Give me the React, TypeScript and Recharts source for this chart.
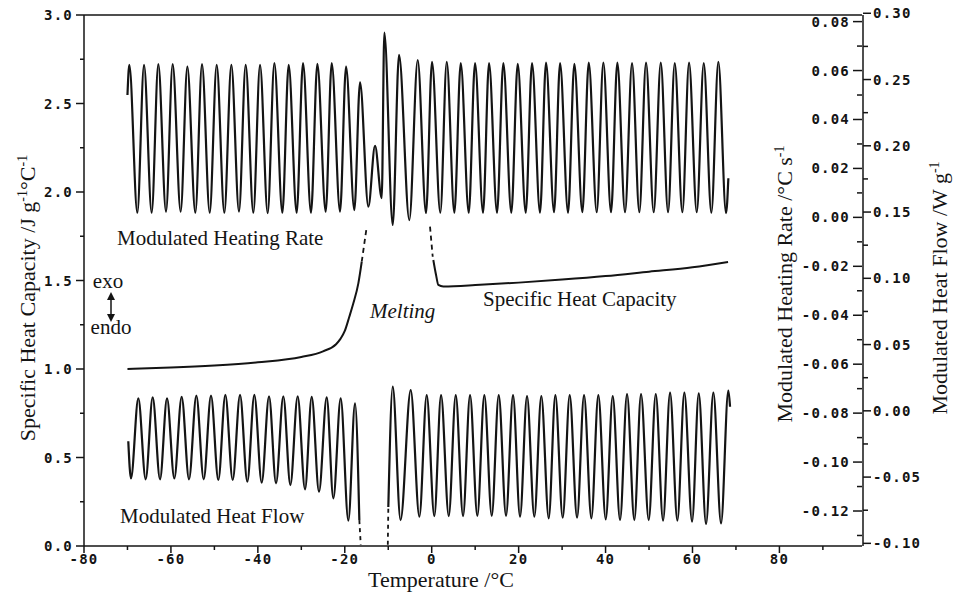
import React from 'react';
import { LineChart, Line, XAxis, YAxis, ReferenceLine } from 'recharts';

type Pt = [number, number];

// axis ticks (minor ticks carry no label)
const tempTicks = [-80, -70, -60, -50, -40, -30, -20, -10, 0, 10, 20, 30, 40, 50, 60, 70, 80, 90];
const cpTicks = [0, 0.25, 0.5, 0.75, 1, 1.25, 1.5, 1.75, 2, 2.25, 2.5, 2.75, 3];
const rateTicks = [-0.13, -0.12, -0.11, -0.1, -0.09, -0.08, -0.07, -0.06, -0.05, -0.04, -0.03, -0.02, -0.01, 0, 0.01, 0.02, 0.03, 0.04, 0.05, 0.06, 0.07, 0.08];
const flowTicks = [-0.1, -0.075, -0.05, -0.025, 0, 0.025, 0.05, 0.075, 0.1, 0.125, 0.15, 0.175, 0.2, 0.225, 0.25, 0.275, 0.3];

// modulated heating rate, °C/s  [temperature, value] at each turning point
const heatingRate: Pt[] = [
  [-70.0, 0.05], [-69.57, 0.0623], [-67.73, 0.0019], [-66.19, 0.0623], [-64.43, 0.0019],
  [-62.9, 0.0626], [-61.13, 0.0023], [-59.6, 0.0626], [-57.76, 0.0023], [-56.22, 0.0616],
  [-54.38, 0.0019], [-52.85, 0.0626], [-51.08, 0.0019], [-49.47, 0.0623], [-47.71, 0.0019],
  [-46.1, 0.0623], [-44.34, 0.0023], [-42.8, 0.0623], [-41.04, 0.0019], [-39.5, 0.0623],
  [-37.74, 0.0017], [-36.2, 0.063], [-34.36, 0.0019], [-32.91, 0.0623], [-31.07, 0.0019],
  [-29.61, 0.063], [-27.77, 0.0019], [-26.31, 0.0627], [-24.39, 0.0023], [-23.01, 0.063],
  [-21.09, 0.0023], [-19.71, 0.0616], [-17.8, 0.003], [-16.49, 0.0552], [-14.58, 0.0044],
  [-13.04, 0.0292], [-11.5, 0.0079], [-10.9, 0.0755], [-8.97, -0.0031], [-7.52, 0.0664],
  [-5.15, -0.0011], [-3.22, 0.0643], [-1.31, 0.0017], [0.07, 0.0636], [1.98, 0.0019],
  [3.46, 0.0636], [5.21, 0.0019], [6.68, 0.063], [8.52, 0.0019], [9.97, 0.063],
  [11.81, 0.0019], [13.19, 0.063], [15.03, 0.0019], [16.48, 0.063], [18.32, 0.0019],
  [19.79, 0.0627], [21.63, 0.0019], [23.08, 0.063], [24.92, 0.0019], [26.3, 0.0632],
  [28.15, 0.0021], [29.53, 0.063], [31.37, 0.0019], [32.82, 0.0627], [34.66, 0.0021],
  [36.13, 0.0632], [37.97, 0.0021], [39.49, 0.0632], [41.26, 0.0021], [42.71, 0.0632],
  [44.48, 0.0021], [46.09, 0.063], [47.77, 0.0021], [49.31, 0.0632], [51.08, 0.0021],
  [52.7, 0.0632], [54.38, 0.0021], [55.92, 0.063], [57.67, 0.0021], [59.21, 0.0632],
  [60.98, 0.0021], [62.59, 0.063], [64.34, 0.0019], [65.95, 0.0636], [67.72, 0.0017],
  [68.25, 0.016],
];

// modulated heat flow, W/g
const heatFlowBefore: Pt[] = [
  [-69.81, -0.023], [-69.19, -0.051], [-67.5, 0.0094], [-65.81, -0.0517], [-64.2, 0.0102],
  [-62.51, -0.0517], [-60.9, 0.0094], [-59.22, -0.051], [-57.53, 0.0106], [-55.84, -0.0517],
  [-54.15, 0.0114], [-52.46, -0.0517], [-50.78, 0.0114], [-49.09, -0.0522], [-47.48, 0.012],
  [-45.79, -0.0522], [-44.1, 0.012], [-42.42, -0.0535], [-40.81, 0.012], [-39.12, -0.0542],
  [-37.43, 0.011], [-35.82, -0.0547], [-34.14, 0.011], [-32.52, -0.056], [-30.84, 0.011],
  [-29.15, -0.0592], [-27.61, 0.0106], [-25.93, -0.061], [-24.16, 0.0102], [-22.63, -0.066],
  [-20.94, 0.0094], [-19.18, -0.0829], [-17.64, 0.0057], [-16.65, -0.0825],
];
const heatFlowBeforeGap: Pt[] = [[-16.65, -0.0825], [-16.33, -0.101]];
const heatFlowAfterGap: Pt[] = [[-10.1, -0.101], [-9.98, -0.0725]];
const heatFlowAfter: Pt[] = [
  [-9.98, -0.0725], [-8.97, 0.0182], [-7.17, -0.0824], [-4.83, 0.0157], [-2.84, -0.0799],
  [-1.15, 0.0119], [0.6, -0.0794], [2.15, 0.0119], [3.92, -0.0794], [5.53, 0.0119],
  [7.21, -0.0794], [8.82, 0.0119], [10.5, -0.0792], [12.11, 0.0119], [13.81, -0.0792],
  [15.42, 0.0119], [17.1, -0.0792], [18.71, 0.0119], [20.32, -0.0799], [21.93, 0.0112],
  [23.61, -0.0799], [25.22, 0.0112], [26.92, -0.0811], [28.45, 0.0119], [30.14, -0.0807],
  [31.75, 0.0119], [33.44, -0.0807], [35.05, 0.0119], [36.73, -0.0811], [38.34, 0.0119],
  [40.04, -0.0819], [41.65, 0.0112], [43.33, -0.0824], [44.94, 0.0127], [46.62, -0.0824],
  [48.16, 0.0127], [49.93, -0.0824], [51.55, 0.0127], [53.23, -0.0829], [54.84, 0.0137],
  [56.52, -0.0829], [58.13, 0.0137], [59.9, -0.0837], [61.44, 0.0132], [63.12, -0.0854],
  [64.8, 0.0137], [66.57, -0.0849], [68.25, 0.0152], [68.64, 0.0031],
];

// specific heat capacity, J/g/°C
const cpBefore: Pt[] = [
  [-70, 1.0], [-60, 1.008], [-50, 1.02], [-40, 1.038], [-30, 1.068], [-25, 1.1],
  [-22, 1.14], [-21, 1.17], [-20, 1.215], [-18.96, 1.295], [-18.03, 1.371],
  [-16.88, 1.484], [-16.1, 1.606],
];
const cpBeforeGap: Pt[] = [[-16.1, 1.606], [-14.95, 1.804]];
const cpAfterGap: Pt[] = [[-0.39, 1.804], [0.23, 1.634]];
const cpAfter: Pt[] = [
  [0.37, 1.616], [1.0, 1.531], [1.52, 1.475], [2.67, 1.466], [11.12, 1.476], [20, 1.488],
  [30, 1.505], [40, 1.525], [50, 1.55], [60, 1.575], [68.18, 1.605],
];

const toRows = (pts: Pt[]) => pts.map(([t, v]) => ({ t, v }));

const INK = '#141414';
const MONO = '"DejaVu Sans Mono", "Liberation Mono", monospace';
const SERIF = '"Liberation Serif", "DejaVu Serif", serif';

const tickText = { fontFamily: MONO, fontSize: 14, fontWeight: 'bold' as const, letterSpacing: 1.2, fill: INK };

const TempTick = ({ x, y, payload }: any) => {
  const v = payload.value;
  const major = v % 20 === 0;
  return (
    <g>
      <line x1={x} y1={y} x2={x} y2={y + (major ? 7 : 4)} stroke={INK} strokeWidth={1.5} />
      {major && (
        <text x={x} y={y + 18} textAnchor="middle" {...tickText}>{v}</text>
      )}
    </g>
  );
};

const CpTick = ({ x, y, payload }: any) => {
  const v = payload.value;
  const major = Math.round(v * 100) % 50 === 0;
  return (
    <g>
      <line x1={x - (major ? 8 : 4)} y1={y} x2={x} y2={y} stroke={INK} strokeWidth={1.5} />
      {major && (
        <text x={x - 11} y={y + 5} textAnchor="end" {...tickText}>{v.toFixed(1)}</text>
      )}
    </g>
  );
};

const RateTick = ({ x, y, payload }: any) => {
  const v = payload.value;
  const major = Math.round(v * 100) % 2 === 0;
  return (
    <g>
      <line x1={x - (major ? 9 : 5)} y1={y} x2={x} y2={y} stroke={INK} strokeWidth={1.5} />
      {major && (
        <text x={x - 12} y={y + 5} textAnchor="end" {...tickText}>{v.toFixed(2)}</text>
      )}
    </g>
  );
};

const FlowTick = ({ x, y, payload }: any) => {
  const v = payload.value;
  const major = Math.round(v * 1000) % 50 === 0;
  return (
    <g>
      <line x1={x} y1={y} x2={x + (major ? 8 : 5)} y2={y} stroke={INK} strokeWidth={1.5} />
      {major && (
        <text x={x + 10} y={y + 5} textAnchor="start" {...tickText}>{v.toFixed(2)}</text>
      )}
    </g>
  );
};

const titleText = { fontFamily: SERIF, fontSize: 22, fill: INK };
const noteText = { fontFamily: SERIF, fontSize: 21, fill: INK };
const sup = { fontSize: 14 };

// axis titles and in-plot notes
const Notes = () => (
  <svg width={954} height={598} style={{ position: 'absolute', left: 0, top: 0, pointerEvents: 'none' }}>
    <text transform="translate(35,298) rotate(-90)" textAnchor="middle" {...titleText}>
      Specific Heat Capacity /J g<tspan dy={-8} {...sup}>-1</tspan>
      <tspan dy={8}>°C</tspan><tspan dy={-8} {...sup}>-1</tspan>
    </text>
    <text transform="translate(792,284) rotate(-90)" textAnchor="middle" {...titleText}>
      Modulated Heating Rate /°C s<tspan dy={-8} {...sup}>-1</tspan>
    </text>
    <text transform="translate(947,288) rotate(-90)" textAnchor="middle" {...titleText}>
      Modulated Heat Flow /W g<tspan dy={-8} {...sup}>-1</tspan>
    </text>
    <text x={441} y={587} textAnchor="middle" {...titleText}>Temperature /°C</text>

    <text x={117} y={245} {...noteText}>Modulated Heating Rate</text>
    <text x={120} y={523} {...noteText}>Modulated Heat Flow</text>
    <text x={483} y={306} {...noteText}>Specific Heat Capacity</text>
    <text x={370} y={318} {...noteText} fontStyle="italic">Melting</text>

    <text x={108} y={288} textAnchor="middle" {...noteText}>exo</text>
    <text x={111} y={334} textAnchor="middle" {...noteText}>endo</text>
    <line x1={111} y1={296} x2={111} y2={318} stroke={INK} strokeWidth={1.5} />
    <polygon points="111,292 107,300 115,300" fill={INK} />
    <polygon points="111,322 107,314 115,314" fill={INK} />
  </svg>
);

const lineProps = {
  dataKey: 'v',
  type: 'monotone' as const,
  dot: false,
  stroke: INK,
  isAnimationActive: false,
};

export default function App() {
  return (
    <div style={{ position: 'absolute', left: 0, top: 0, width: 954, height: 598, background: '#fff' }}>
      <LineChart width={954} height={598} margin={{ top: 15, right: 31, bottom: 22, left: 24 }}>
        <XAxis
          dataKey="t"
          type="number"
          domain={[-80, 99]}
          ticks={tempTicks}
          allowDataOverflow
          height={30}
          tickSize={0}
          tickMargin={0}
          tickLine={false}
          tick={<TempTick />}
          axisLine={{ stroke: INK, strokeWidth: 1.5 }}
        />
        <YAxis
          yAxisId="cp"
          orientation="left"
          type="number"
          domain={[0, 3]}
          ticks={cpTicks}
          allowDataOverflow
          width={60}
          tickSize={0}
          tickMargin={0}
          tickLine={false}
          tick={<CpTick />}
          axisLine={{ stroke: INK, strokeWidth: 1.5 }}
        />
        <YAxis
          yAxisId="r1"
          orientation="right"
          type="number"
          domain={[-0.1343, 0.0827]}
          ticks={rateTicks}
          allowDataOverflow
          width={1}
          tickSize={0}
          tickMargin={0}
          tickLine={false}
          tick={<RateTick />}
          axisLine={false}
        />
        <YAxis
          yAxisId="r2"
          orientation="right"
          type="number"
          domain={[-0.102, 0.2987]}
          ticks={flowTicks}
          allowDataOverflow
          width={60}
          tickSize={0}
          tickMargin={0}
          tickLine={false}
          tick={<FlowTick />}
          axisLine={{ stroke: INK, strokeWidth: 1.5 }}
        />
        <ReferenceLine yAxisId="cp" y={3} stroke={INK} strokeWidth={1.5} />

        <Line {...lineProps} yAxisId="r1" data={toRows(heatingRate)} strokeWidth={2.2} />
        <Line {...lineProps} yAxisId="r2" data={toRows(heatFlowBefore)} strokeWidth={2.2} />
        <Line {...lineProps} yAxisId="r2" data={toRows(heatFlowBeforeGap)} strokeWidth={1.8} strokeDasharray="4 4" />
        <Line {...lineProps} yAxisId="r2" data={toRows(heatFlowAfterGap)} strokeWidth={1.8} strokeDasharray="4 4" />
        <Line {...lineProps} yAxisId="r2" data={toRows(heatFlowAfter)} strokeWidth={2.2} />
        <Line {...lineProps} yAxisId="cp" data={toRows(cpBefore)} strokeWidth={2} />
        <Line {...lineProps} yAxisId="cp" data={toRows(cpBeforeGap)} strokeWidth={1.8} strokeDasharray="5 4" />
        <Line {...lineProps} yAxisId="cp" data={toRows(cpAfterGap)} strokeWidth={1.8} strokeDasharray="5 4" />
        <Line {...lineProps} yAxisId="cp" data={toRows(cpAfter)} strokeWidth={2} />
      </LineChart>
      <Notes />
    </div>
  );
}
